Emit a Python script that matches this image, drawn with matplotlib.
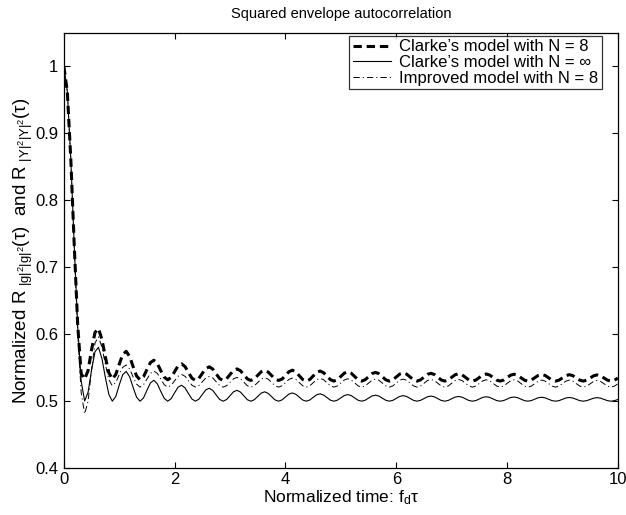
import numpy as np
import matplotlib
matplotlib.use("Agg")
import matplotlib.pyplot as plt

plt.rcParams['font.family'] = ['Liberation Sans', 'DejaVu Sans']
plt.rcParams['mathtext.fontset'] = 'custom'
plt.rcParams['mathtext.rm'] = 'Liberation Sans'
plt.rcParams['mathtext.it'] = 'Liberation Sans'
plt.rcParams['lines.scale_dashes'] = False

# ---- data ----
tau = np.linspace(0, 10, 161)   # normalized time f_d*tau

clarke_inf = [
    1.0, 0.9625, 0.8626, 0.7326, 0.6114, 0.5300, 0.5003, 0.5134, 0.5463, 0.5740,
    0.5804, 0.5635, 0.5351, 0.5101, 0.5000, 0.5070, 0.5243, 0.5396, 0.5445, 0.5365,
    0.5207, 0.5060, 0.5000, 0.5048, 0.5163, 0.5273, 0.5312, 0.5259, 0.5145, 0.5041,
    0.5000, 0.5038, 0.5127, 0.5210, 0.5238, 0.5198, 0.5113, 0.5032, 0.5000, 0.5030,
    0.5101, 0.5169, 0.5193, 0.5161, 0.5092, 0.5026, 0.5000, 0.5025, 0.5084, 0.5141,
    0.5162, 0.5136, 0.5078, 0.5022, 0.5000, 0.5022, 0.5072, 0.5121, 0.5140, 0.5117,
    0.5068, 0.5019, 0.5000, 0.5019, 0.5063, 0.5106, 0.5123, 0.5103, 0.5060, 0.5017,
    0.5000, 0.5017, 0.5056, 0.5095, 0.5110, 0.5092, 0.5053, 0.5015, 0.5000, 0.5015,
    0.5051, 0.5085, 0.5099, 0.5083, 0.5048, 0.5014, 0.5000, 0.5014, 0.5046, 0.5078,
    0.5090, 0.5076, 0.5044, 0.5013, 0.5000, 0.5012, 0.5042, 0.5071, 0.5083, 0.5070,
    0.5041, 0.5012, 0.5000, 0.5012, 0.5039, 0.5066, 0.5076, 0.5065, 0.5038, 0.5011,
    0.5000, 0.5011, 0.5036, 0.5061, 0.5071, 0.5060, 0.5035, 0.5010, 0.5000, 0.5010,
    0.5034, 0.5057, 0.5066, 0.5056, 0.5033, 0.5009, 0.5000, 0.5009, 0.5032, 0.5054,
    0.5062, 0.5053, 0.5031, 0.5009, 0.5000, 0.5009, 0.5030, 0.5051, 0.5059, 0.5050,
    0.5029, 0.5008, 0.5000, 0.5008, 0.5028, 0.5048, 0.5056, 0.5047, 0.5027, 0.5008,
    0.5000, 0.5008, 0.5027, 0.5045, 0.5053, 0.5045, 0.5026, 0.5008, 0.5000, 0.5007,
    0.5025]

clarke_8 = [
    1.0, 0.9625, 0.8626, 0.733, 0.614, 0.541, 0.533, 0.5457, 0.5768, 0.6027,
    0.6084, 0.5922, 0.5656, 0.5424, 0.533, 0.5399, 0.5553, 0.5699, 0.5745, 0.5668,
    0.5517, 0.5377, 0.532, 0.5365, 0.5473, 0.5576, 0.5612, 0.5562, 0.5455, 0.5358,
    0.532, 0.5355, 0.5442, 0.5529, 0.5558, 0.5517, 0.5428, 0.5343, 0.531, 0.5341,
    0.5416, 0.5488, 0.5513, 0.5480, 0.5407, 0.5337, 0.531, 0.5336, 0.5399, 0.5460,
    0.5482, 0.5455, 0.5393, 0.5333, 0.531, 0.5333, 0.5387, 0.5440, 0.5460, 0.5436,
    0.5383, 0.5330, 0.531, 0.5330, 0.5383, 0.5440, 0.5463, 0.5437, 0.5380, 0.5323,
    0.530, 0.5323, 0.5376, 0.5429, 0.5450, 0.5426, 0.5373, 0.5321, 0.530, 0.5321,
    0.5371, 0.5419, 0.5439, 0.5417, 0.5368, 0.5320, 0.530, 0.5320, 0.5366, 0.5412,
    0.5430, 0.5410, 0.5364, 0.5319, 0.530, 0.5318, 0.5362, 0.5405, 0.5423, 0.5404,
    0.5361, 0.5318, 0.530, 0.5318, 0.5359, 0.5400, 0.5416, 0.5399, 0.5358, 0.5317,
    0.530, 0.5317, 0.5356, 0.5395, 0.5411, 0.5394, 0.5355, 0.5316, 0.530, 0.5316,
    0.5354, 0.5391, 0.5406, 0.5390, 0.5353, 0.5315, 0.530, 0.5315, 0.5352, 0.5388,
    0.5402, 0.5387, 0.5351, 0.5315, 0.530, 0.5315, 0.5350, 0.5385, 0.5399, 0.5384,
    0.5349, 0.5314, 0.530, 0.5314, 0.5348, 0.5382, 0.5396, 0.5381, 0.5347, 0.5314,
    0.530, 0.5314, 0.5347, 0.5379, 0.5393, 0.5379, 0.5346, 0.5314, 0.530, 0.5313,
    0.5345]

improved_8 = [
    1.0, 0.9625, 0.861, 0.727, 0.602, 0.513, 0.481, 0.500, 0.547, 0.587,
    0.596, 0.5807, 0.5549, 0.5321, 0.523, 0.5279, 0.5399, 0.5506, 0.554, 0.5481,
    0.5363, 0.5255, 0.521, 0.5245, 0.533, 0.5415, 0.545, 0.5415, 0.533, 0.5245,
    0.521, 0.5238, 0.5305, 0.5372, 0.540, 0.5372, 0.5305, 0.5238, 0.521, 0.5233,
    0.529, 0.5347, 0.537, 0.5347, 0.529, 0.5233, 0.521, 0.5231, 0.5283, 0.5334,
    0.5355, 0.5334, 0.5283, 0.5231, 0.521, 0.523, 0.528, 0.533, 0.535, 0.533,
    0.528, 0.523, 0.521, 0.523, 0.5278, 0.5325, 0.5345, 0.5325, 0.5278, 0.523,
    0.521, 0.5229, 0.5275, 0.5321, 0.534, 0.5321, 0.5275, 0.5229, 0.521, 0.5228,
    0.5273, 0.5317, 0.5335, 0.5317, 0.5273, 0.5228, 0.521, 0.5228, 0.527, 0.5312,
    0.533, 0.5312, 0.527, 0.5228, 0.521, 0.5228, 0.527, 0.5312, 0.533, 0.5312,
    0.527, 0.5228, 0.521, 0.5227, 0.5268, 0.5308, 0.5325, 0.5308, 0.5268, 0.5227,
    0.521, 0.5227, 0.5268, 0.5308, 0.5325, 0.5308, 0.5268, 0.5227, 0.521, 0.5226,
    0.5265, 0.5304, 0.532, 0.5304, 0.5265, 0.5226, 0.521, 0.5226, 0.5265, 0.5304,
    0.532, 0.5304, 0.5265, 0.5226, 0.521, 0.5225, 0.5263, 0.530, 0.5315, 0.530,
    0.5263, 0.5225, 0.521, 0.5225, 0.5263, 0.530, 0.5315, 0.530, 0.5263, 0.5225,
    0.521, 0.5225, 0.526, 0.5295, 0.531, 0.5295, 0.526, 0.5225, 0.521, 0.5225,
    0.526]

labels = ["Clarke\u2019s model with N = 8",
          "Clarke\u2019s model with N = \u221e",
          "Improved model with N = 8"]
xticks = [0, 2, 4, 6, 8, 10]
yticks = [0.4, 0.5, 0.6, 0.7, 0.8, 0.9, 1.0]
ytick_labels = ["0.4", "0.5", "0.6", "0.7", "0.8", "0.9", "1"]

# ---- figure ----
fig = plt.figure(figsize=(6.26, 5.15), dpi=100)
ax = fig.add_axes([0.102, 0.091, 0.885, 0.845])

ax.plot(tau, clarke_8, color='k', lw=2.2, dashes=[6, 3.5], label=labels[0])
ax.plot(tau, clarke_inf, color='k', lw=0.8, label=labels[1])
ax.plot(tau, improved_8, color='k', lw=0.7, dashes=[4.5, 2.2, 0.8, 2.2], label=labels[2])

ax.set_xlim(0, 10)
ax.set_ylim(0.4, 1.05)
ax.set_xticks(xticks)
ax.set_xticklabels([str(t) for t in xticks])
ax.set_yticks(yticks)
ax.set_yticklabels(ytick_labels)
ax.tick_params(direction='in', top=True, right=True, length=4, width=0.8,
               labelsize=12, pad=2.5)
ax.tick_params(axis='y', pad=4)
for s in ax.spines.values():
    s.set_linewidth(0.9)

ax.set_title("Squared envelope autocorrelation", fontsize=10.5, pad=11)
ax.set_xlabel(r"Normalized time: f$_{\mathrm{d}}\tau$", fontsize=12.5, labelpad=1)
ax.set_ylabel(r"Normalized R$\;_{|g|^2|g|^2}(\tau)$  and R$\;_{|Y|^2|Y|^2}(\tau)$",
              fontsize=13.5, labelpad=0)

leg = ax.legend(loc='upper right', bbox_to_anchor=(0.971, 0.993), fontsize=12,
                frameon=True, fancybox=False, handlelength=2.3, borderpad=0.2,
                labelspacing=0.05, handletextpad=0.5, borderaxespad=0)
leg.get_frame().set_edgecolor('k')
leg.get_frame().set_linewidth(0.9)

fig.savefig("out.png", dpi=100)
